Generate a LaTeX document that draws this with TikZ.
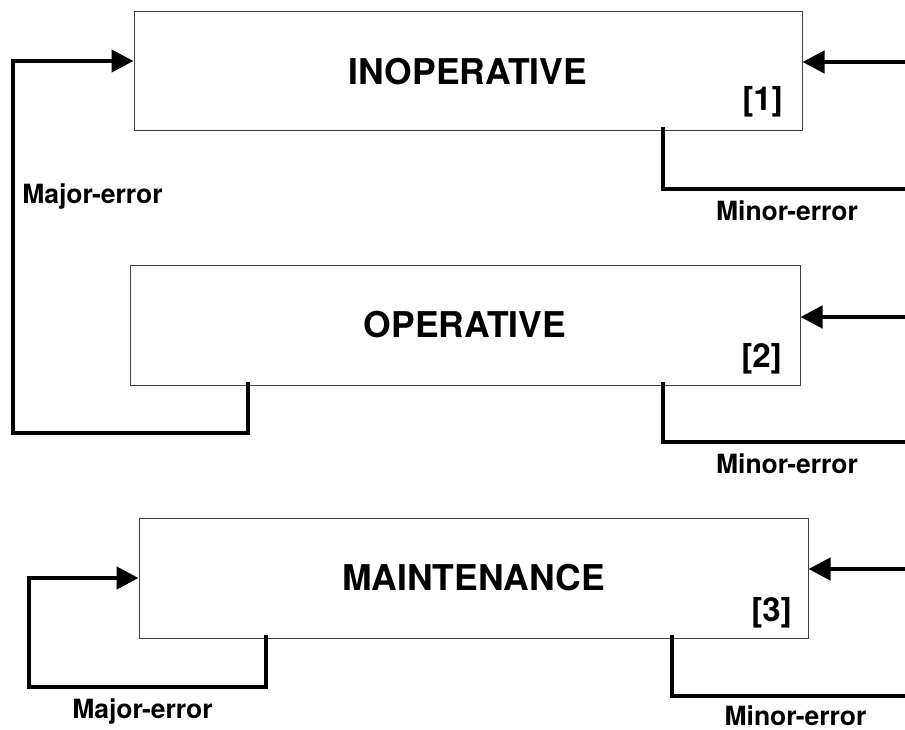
\documentclass[tikz,border=0pt]{standalone}
\usepackage{fontspec}
\setmainfont{TeX Gyre Heros}
\usetikzlibrary{arrows.meta}
\begin{document}
\begin{tikzpicture}[x=1pt,y=-1pt,
  statebox/.style={draw=black!75, line width=1pt, minimum width=#1, minimum height=120pt,
    inner sep=0pt, font=\bfseries\fontsize{35.5}{40}\selectfont},
  flow/.style={line width=4.5pt, line join=miter},
  arrowflow/.style={flow, -{Triangle[length=22pt,width=22pt]}},
  lbl/.style={font=\bfseries\fontsize{26.5}{30}\selectfont, anchor=base, inner sep=0pt},
  idx/.style={font=\bfseries\fontsize{33}{38}\selectfont, anchor=base east, inner sep=0pt}]
\useasboundingbox (0,0) rectangle (905,730);

% boxes
\node[statebox=668pt, minimum height=119pt] (b1) at (468,71.5) {INOPERATIVE};
\node[statebox=670pt] (b2) at (465,325) {OPERATIVE};
\node[statebox=669pt] (b3) at (473.5,578) {MAINTENANCE};

\node[idx] (i1) at (783,111) {[1]};
\node[idx] (i2) at (782,367) {[2]};
\node[idx] (i3) at (792,621) {[3]};

% incoming arrows from the right
\coordinate (r1) at (905,62);
\coordinate (r2) at (905,317);
\coordinate (r3) at (905,569);
\draw[arrowflow] (r1) -- (r1 -| b1.east);
\draw[arrowflow] (r2) -- (r2 -| b2.east);
\draw[arrowflow] (r3) -- (r3 -| b3.east);

% minor-error lines
\coordinate (m1) at (663,189);
\coordinate (o1) at (905,189);
\coordinate (m2) at (663,442);
\coordinate (o2) at (905,442);
\coordinate (m3) at (672,696);
\coordinate (o3) at (905,696);
\draw[flow] ([yshift=4pt]b1.south -| m1) -- (m1) -- (o1);
\draw[flow] ([yshift=4pt]b2.south -| m2) -- (m2) -- (o2);
\draw[flow] ([yshift=4pt]b3.south -| m3) -- (m3) -- (o3);

% major-error from OPERATIVE back to INOPERATIVE
\coordinate (a1) at (248,433);
\coordinate (a2) at (13,433);
\coordinate (a3) at (13,61);
\draw[arrowflow] ([yshift=4pt]b2.south -| a1) -- (a1) -- (a2) -- (a3) -- (a3 -| b1.west);

% major-error loop on MAINTENANCE
\coordinate (c1) at (266,687);
\coordinate (c2) at (29,687);
\coordinate (c3) at (29,578);
\draw[arrowflow] ([yshift=4pt]b3.south -| c1) -- (c1) -- (c2) -- (c3) -- (c3 -| b3.west);

% labels
\node[lbl] (l1) at (92.5,204) {Major-error};
\node[lbl] (l2) at (787,221) {Minor-error};
\node[lbl] (l3) at (787,473) {Minor-error};
\node[lbl] (l4) at (142.5,718) {Major-error};
\node[lbl] (l5) at (795.5,725) {Minor-error};
\end{tikzpicture}
\end{document}
